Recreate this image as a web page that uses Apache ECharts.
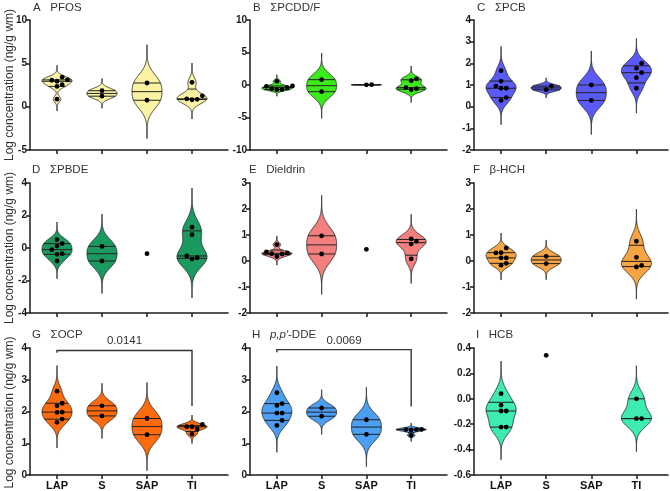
<!DOCTYPE html>
<html><head><meta charset="utf-8">
<script src="https://cdn.jsdelivr.net/npm/echarts@6/dist/echarts.min.js"></script>
<style>html,body{margin:0;padding:0;background:#fff}#c{width:670px;height:491px}</style>
</head><body><div id="c"></div><script>
// ---------- DATA ----------
const categories = ['LAP', 'S', 'SAP', 'TI'];
// log concentrations (ng/g wm), one array per category: LAP, S, SAP, TI
const PFOS     = [[3.40,3.09,3.05,2.93,2.54,2.34,0.86],[1.84,1.21],[2.73,0.74],[2.81,1.25,0.90,0.85,0.80]];
const PCDDF    = [[0.57,-0.15,-0.20,-0.40,-0.57,-0.70,-0.72],[0.82,-1.03],[0.05,0.02],[0.93,0.67,-0.41,-0.57,-0.72]];
const PCB      = [[1.66,1.18,0.95,0.85,0.85,0.42,0.29],[0.95,0.78],[1.00,0.29],[2.00,1.77,1.57,1.34,0.85]];
const PBDE     = [[0.51,0.27,0.12,-0.10,-0.35,-0.39,-0.80],[0.10,-0.80],[-0.35],[1.29,0.82,-0.49,-0.60,-0.68]];
const DIELDRIN = [[0.63,0.35,0.31,0.28,0.27,0.17],[0.97,0.27],[0.45],[0.85,0.76,0.65,0.08]];
const BHCH     = [[0.50,0.32,0.31,0.12,0.12,-0.09,-0.16],[0.18,-0.10],[],[0.76,0.14,-0.17,-0.23]];
const OCP      = [[2.64,2.26,2.18,1.98,1.97,1.76,1.66],[2.18,1.86],[1.78,1.27],[1.59,1.52,1.52,1.45,1.29]];
const DDE      = [[2.59,2.25,2.19,1.95,1.95,1.72,1.56],[2.11,1.85],[1.74,1.28],[1.44,1.43,1.43,1.42,1.25]];
const HCB      = [[0.04,-0.05,-0.096,-0.096,-0.223,-0.223],[0.342],[],[0.00,-0.156,-0.156]];

const panelLetters = ['A','B','C','D','E','F','G','H','I'];
const panelNames = ['PFOS','ΣPCDD/F','ΣPCB','ΣPBDE','Dieldrin','β-HCH','ΣOCP','p,p′-DDE','HCB'];
const yAxisTitle = 'Log concentration (ng/g wm)';

// y-axis tick labels per panel
const ticksA = [-5,0,5,10];
const ticksB = [-10,-5,0,5,10];
const ticksC = [-2,-1,0,1,2,3,4];
const ticksD = [-4,-2,0,2,4];
const ticksE = [-2,-1,0,1,2,3];
const ticksF = [-2,-1,0,1,2,3];
const ticksG = [0,1,2,3,4];
const ticksH = [0,1,2,3,4];
const ticksI = [-0.6,-0.4,-0.2,0.0,0.2,0.4];

// significance brackets (panels G and H)
const sigPanels   = [6, 7];
const sigFrom     = [0, 0];
const sigTo       = [3, 3];
const sigBarY     = [3.92, 3.95];
const sigLeftEnd  = [3.85, 3.87];
const sigRightEnd = [2.17, 2.16];
const sigLabels   = ['0.0141', '0.0069'];
const sigLabelY   = [4.22, 4.22];

// ---------- STYLE / LAYOUT ----------
const panelData = [PFOS, PCDDF, PCB, PBDE, DIELDRIN, BHCH, OCP, DDE, HCB];
const panelTicks = [ticksA, ticksB, ticksC, ticksD, ticksE, ticksF, ticksG, ticksH, ticksI];
const panelColors = ['#FAF3A3','#3CEA1C','#5A5AF6','#1B9A5F','#F37F7F','#F7A443','#FF6A0C','#4B9EF1','#3EEBB0'];
const colLeft = [30, 250, 474], colWidth = [198, 197, 194], xMax = [3.8, 3.8, 3.7];
const rowTop = [20, 183, 348], rowHeight = [130, 130, 129];
const titlePos = [[33,2],[253,2],[477,2],[32,164],[249,164],[473,164],[32,329],[252,329],[476,329]];
const FONT = 'Liberation Sans, Arial, sans-serif';
const AXIS_COLOR = '#1c1c1c';

function prismQ(s, p) {
  const n = s.length, pos = p * (n + 1);
  if (pos <= 1) return s[0];
  if (pos >= n) return s[n - 1];
  const lo = Math.floor(pos);
  return s[lo - 1] + (pos - lo) * (s[lo] - s[lo - 1]);
}
function describe(vals) {
  const s = [...vals].sort((a, b) => a - b), n = s.length;
  const mean = s.reduce((a, b) => a + b, 0) / n;
  const sd = Math.sqrt(s.reduce((a, b) => a + (b - mean) * (b - mean), 0) / (n - 1));
  const q1 = prismQ(s, 0.25), med = prismQ(s, 0.5), q3 = prismQ(s, 0.75);
  let spread = Math.min(sd, (q3 - q1) / 1.34);
  if (!(spread > 0)) spread = sd;
  let h = 0.9 * spread * Math.pow(n, -0.2);
  if (!(h > 0)) h = 1e-3;
  return { s, n, q1, med, q3, h };
}

const grids = [], xAxes = [], yAxes = [], series = [], titles = [], graphics = [];
for (let r = 0; r < 3; r++) {
  graphics.push({
    type: 'text', x: 10, y: rowTop[r] + rowHeight[r] / 2, rotation: Math.PI / 2,
    style: { text: yAxisTitle, fontFamily: FONT, fontSize: 12, fill: '#333', align: 'center', verticalAlign: 'middle' }
  });
}
for (let p = 0; p < 9; p++) {
  const r = Math.floor(p / 3), c = p % 3;
  grids.push({ left: colLeft[c], top: rowTop[r], width: colWidth[c], height: rowHeight[r] });
  const bottomRow = r === 2;
  xAxes.push({
    type: 'value', gridIndex: p, min: -0.6, max: xMax[c],
    axisLine: { show: true, onZero: false, lineStyle: { color: AXIS_COLOR, width: 1.5 } },
    axisTick: { show: true, length: 4, customValues: [0, 1, 2, 3], lineStyle: { color: AXIS_COLOR, width: 1.5 } },
    axisLabel: bottomRow ? { show: true, customValues: [0, 1, 2, 3], formatter: v => categories[Math.round(v)] || '',
      fontFamily: FONT, fontWeight: 'bold', fontSize: 11, color: '#111', margin: 5 } : { show: false },
    splitLine: { show: false }
  });
  const t = panelTicks[p];
  const isI = p === 8;
  yAxes.push({
    type: 'value', gridIndex: p, min: t[0], max: t[t.length - 1], interval: t[1] - t[0],
    axisLine: { show: true, onZero: false, lineStyle: { color: AXIS_COLOR, width: 1.5 } },
    axisTick: { show: true, length: 4, lineStyle: { color: AXIS_COLOR, width: 1.5 } },
    axisLabel: { fontFamily: FONT, fontWeight: 'bold', fontSize: 10, color: '#1a1a1a', margin: 3,
      formatter: v => isI ? (Math.abs(v) < 1e-9 ? '0.0' : v.toFixed(1)) : String(Math.round(v)) },
    splitLine: { show: false }
  });
  const name = p === 7 ? '{n|H   }{i|p,p′}{n|-DDE}' : '{n|' + panelLetters[p] + '   ' + panelNames[p] + '}';
  titles.push({
    text: name, left: titlePos[p][0], top: titlePos[p][1], padding: 0,
    textStyle: { fontFamily: FONT, fontSize: 11.5, fontWeight: 'normal', color: '#333',
      rich: { n: { fontFamily: FONT, fontSize: 11.5, color: '#333' }, i: { fontFamily: FONT, fontSize: 11.5, color: '#333', fontStyle: 'italic' } } }
  });

  const groups = panelData[p];
  const color = panelColors[p];
  const violinItems = [], pointItems = [];
  groups.forEach((g, i) => { if (g.length >= 2) violinItems.push([i, 0]); if (g.length >= 1) pointItems.push([i, 0]); });

  series.push({
    type: 'custom', xAxisIndex: p, yAxisIndex: p, z: 2, clip: false, data: violinItems,
    renderItem: (params, api) => {
      const ci = api.value(0);
      const st = describe(groups[ci]);
      const lo = st.s[0] - 4 * st.h, hi = st.s[st.n - 1] + 4 * st.h;
      const N = 200, half = 15;
      const dens = y => { let d = 0; for (const v of st.s) { const z = (y - v) / st.h; d += Math.exp(-0.5 * z * z); } return d; };
      const ys = [], ds = [];
      for (let k = 0; k <= N; k++) { const y = lo + (hi - lo) * k / N; ys.push(y); ds.push(dens(y)); }
      const dmax = Math.max(...ds);
      const right = [], left = [];
      for (let k = 0; k <= N; k++) {
        const pt = api.coord([ci, ys[k]]);
        const w = ds[k] / dmax * half;
        right.push([pt[0] + w, pt[1]]); left.push([pt[0] - w, pt[1]]);
      }
      const children = [{
        type: 'polygon', shape: { points: right.concat(left.reverse()) },
        style: { fill: color, stroke: '#2a2a2a', lineWidth: 0.9 }
      }];
      [st.q1, st.med, st.q3].forEach(q => {
        const pt = api.coord([ci, q]);
        const w = Math.min(1, dens(q) / dmax) * half;
        children.push({ type: 'line', shape: { x1: pt[0] - w, y1: pt[1], x2: pt[0] + w, y2: pt[1] },
          style: { stroke: '#222', lineWidth: 1 } });
      });
      return { type: 'group', children };
    }
  });

  series.push({
    type: 'custom', xAxisIndex: p, yAxisIndex: p, z: 3, clip: false, data: pointItems,
    renderItem: (params, api) => {
      const ci = api.value(0);
      const vals = [...groups[ci]].sort((a, b) => a - b);
      const placed = [], children = [], D = 5.2;
      for (const v of vals) {
        const pt = api.coord([ci, v]);
        let off = 0;
        for (let k = 0; k < 20; k++) {
          const cand = k === 0 ? 0 : (k % 2 ? 1 : -1) * Math.ceil(k / 2) * D;
          if (placed.every(q => Math.hypot(q[0] - (pt[0] + cand), q[1] - pt[1]) >= D * 0.98)) { off = cand; break; }
        }
        placed.push([pt[0] + off, pt[1]]);
        children.push({ type: 'circle', shape: { cx: pt[0] + off, cy: pt[1], r: 2.4 }, style: { fill: '#000' } });
      }
      return { type: 'group', children };
    }
  });
}

sigPanels.forEach((p, k) => {
  series.push({
    type: 'custom', xAxisIndex: p, yAxisIndex: p, z: 4, clip: false, data: [[sigFrom[k], sigBarY[k]]],
    renderItem: (params, api) => {
      const a = api.coord([sigFrom[k], sigLeftEnd[k]]);
      const b = api.coord([sigFrom[k], sigBarY[k]]);
      const c2 = api.coord([sigTo[k], sigBarY[k]]);
      const d = api.coord([sigTo[k], sigRightEnd[k]]);
      const tp = api.coord([(sigFrom[k] + sigTo[k]) / 2, sigLabelY[k]]);
      return { type: 'group', children: [
        { type: 'polyline', shape: { points: [a, b, c2, d] }, style: { stroke: '#333', lineWidth: 1.4, fill: null } },
        { type: 'text', x: tp[0], y: tp[1], style: { text: sigLabels[k], fontFamily: FONT, fontSize: 11.5, fill: '#333', align: 'center', verticalAlign: 'middle' } }
      ] };
    }
  });
});

const chart = echarts.init(document.getElementById('c'));
chart.setOption({
  animation: false, backgroundColor: '#fff',
  title: titles, grid: grids, xAxis: xAxes, yAxis: yAxes, series, graphic: graphics
});
</script></body></html>
